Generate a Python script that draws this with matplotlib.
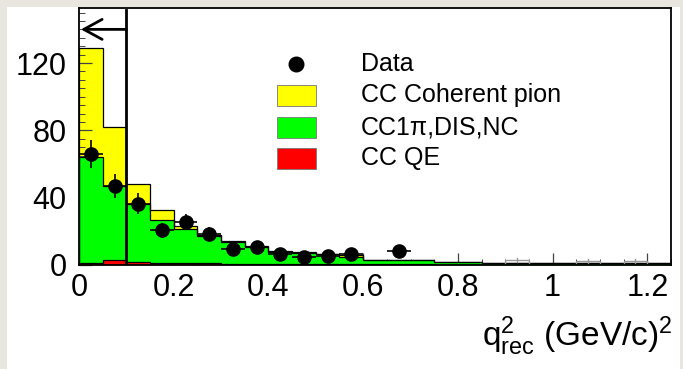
# q2 distribution, coherent pion selection
import numpy as np
import matplotlib.pyplot as plt
from matplotlib.patches import Rectangle
from matplotlib.lines import Line2D

plt.rcParams['font.family'] = ['Liberation Sans', 'DejaVu Sans']
plt.rcParams['mathtext.fontset'] = 'custom'
plt.rcParams['mathtext.rm'] = 'Liberation Sans'
plt.rcParams['mathtext.it'] = 'Liberation Sans:italic'

# Binning (25 bins of 0.05)
edges = np.linspace(0, 1.25, 26)

# MC components per bin (events)
cc_qe = [1.2, 3.0, 1.5, 1.2, 1.0, 1.0, 0.8, 0.8, 0.7, 0.7, 0.7, 0.6, 0.5,
         0.5, 0.4, 0.2, 0.2, 0.1, 0.1, 0.1, 0.1, 0.1, 0.1, 0.1, 0.1]
cc1pi_dis_nc = [62.8, 44.0, 35.0, 25.8, 20.5, 16.0, 13.0, 10.1, 7.2, 6.2, 5.6, 4.4, 2.5,
                2.5, 2.6, 1.3, 1.3, 0.9, 0.9, 1.1, 1.1, 0.9, 0.9, 0.9, 0.9]
cc_coherent = [65.0, 35.0, 11.5, 5.5, 1.5, 1.0, 0.7, 0.6, 0.6, 0.6, 0.5, 1.0, 0.2,
               0.0, 0.0, 0.1, 0.1, 0.1, 0.0, 0.0, 0.0, 0.0, 0.0, 0.0, 0.0]
# faint grey boxes in the tail
tail_bins = [0.925, 1.075, 1.175]
tail_vals = [2.8, 2.4, 2.4]

# Data points
data_x = [0.025, 0.075, 0.125, 0.175, 0.225, 0.275, 0.325, 0.375, 0.425,
          0.475, 0.525, 0.575, 0.675]
data_y = [66, 47, 36.5, 20.5, 25.5, 18.5, 9.5, 10.5, 6.5, 4.5, 5.3, 6.5, 8.5]
data_err = [8.1, 6.9, 6.0, 4.5, 5.0, 4.3, 3.1, 3.2, 2.5, 2.1, 2.3, 2.5, 2.9]

cut_value = 0.1
arrow_y = 140

fig = plt.figure(figsize=(6.83, 3.69), dpi=100)
fig.patch.set_facecolor('#e9e5df')
fig.patches.append(Rectangle((7 / 683, 0), 673 / 683, 362 / 369,
                             transform=fig.transFigure, facecolor='white',
                             edgecolor='none', zorder=-10))

ax = fig.add_axes([79 / 683, 104 / 369, 592 / 683, 257.5 / 369])
ax.set_facecolor('white')

red_top = np.array(cc_qe)
green_top = red_top + np.array(cc1pi_dis_nc)
yellow_top = green_top + np.array(cc_coherent)

ax.stairs(yellow_top, edges, fill=True, color='#ffff00', zorder=1)
ax.stairs(green_top, edges, fill=True, color='#00ff00', zorder=2)
ax.stairs(red_top, edges, fill=True, color='#ff0000', zorder=3)
for top in (yellow_top, green_top, red_top):
    ax.stairs(top, edges, color='black', lw=0.9, zorder=4)

# grey tail boxes
for xc, v in zip(tail_bins, tail_vals):
    ax.add_patch(Rectangle((xc - 0.025, 0), 0.05, v, facecolor='none',
                           edgecolor='#999999', lw=1.0, zorder=4))
    ax.plot([xc, xc], [v - 1.2, v + 1.2], color='#999999', lw=1.0, zorder=4)

# data
ax.errorbar(data_x, data_y, yerr=data_err, xerr=0.025, fmt='o', color='black',
            ms=9.5, elinewidth=1.2, capsize=0, zorder=6)

# cut line and arrow
ax.plot([cut_value, cut_value], [0, 151.5], color='black', lw=2, zorder=7)
ax.annotate('', xy=(0.004, arrow_y), xytext=(cut_value, arrow_y),
            arrowprops=dict(arrowstyle='->,head_length=0.55,head_width=0.3',
                            lw=2, color='black', mutation_scale=24,
                            shrinkA=0, shrinkB=0), zorder=7)

ax.set_xlim(0, 1.25)
ax.set_ylim(0, 153)
ax.set_xticks([0, 0.2, 0.4, 0.6, 0.8, 1.0, 1.2])
ax.set_xticklabels(['0', '0.2', '0.4', '0.6', '0.8', '1', '1.2'])
ax.set_xticks(np.arange(0, 1.26, 0.05), minor=True)
ax.set_yticks([0, 40, 80, 120])
ax.set_yticks(np.arange(0, 151, 5), minor=True)
ax.tick_params(axis='both', which='both', direction='in', top=False, right=False,
               labelsize=22, color='#444444')
ax.tick_params(axis='both', which='major', length=9, width=0.9)
ax.tick_params(axis='both', which='minor', length=4.5, width=0.7)
ax.tick_params(axis='y', pad=9)
ax.tick_params(axis='x', pad=6)
for s in ax.spines.values():
    s.set_linewidth(1.3)
    s.set_zorder(10)

fig.text(673 / 683, 1 - 336 / 369, r'q$^{2}_{\rm rec}$ (GeV/c)$^{2}$',
         ha='right', va='center', fontsize=24)

# legend drawn by hand, ROOT style
W, H = 683, 369
leg_labels = ['Data', 'CC Coherent pion', 'CC1π,DIS,NC', 'CC QE']
leg_colors = [None, '#ffff00', '#00ff00', '#ff0000']
leg_y = [64, 95, 127, 158]
for lab, col, yy in zip(leg_labels, leg_colors, leg_y):
    if col is None:
        fig.add_artist(Line2D([296 / W], [1 - yy / H], marker='o', color='black',
                              ms=10.5, transform=fig.transFigure))
    else:
        fig.add_artist(Rectangle((277 / W, 1 - (yy + 10.5) / H), 39 / W, 21 / H,
                                 facecolor=col, edgecolor='#777777', lw=0.6,
                                 transform=fig.transFigure))
    fig.text(361 / W, 1 - yy / H, lab, ha='left', va='center', fontsize=18)

plt.savefig('out.png', dpi=100)
